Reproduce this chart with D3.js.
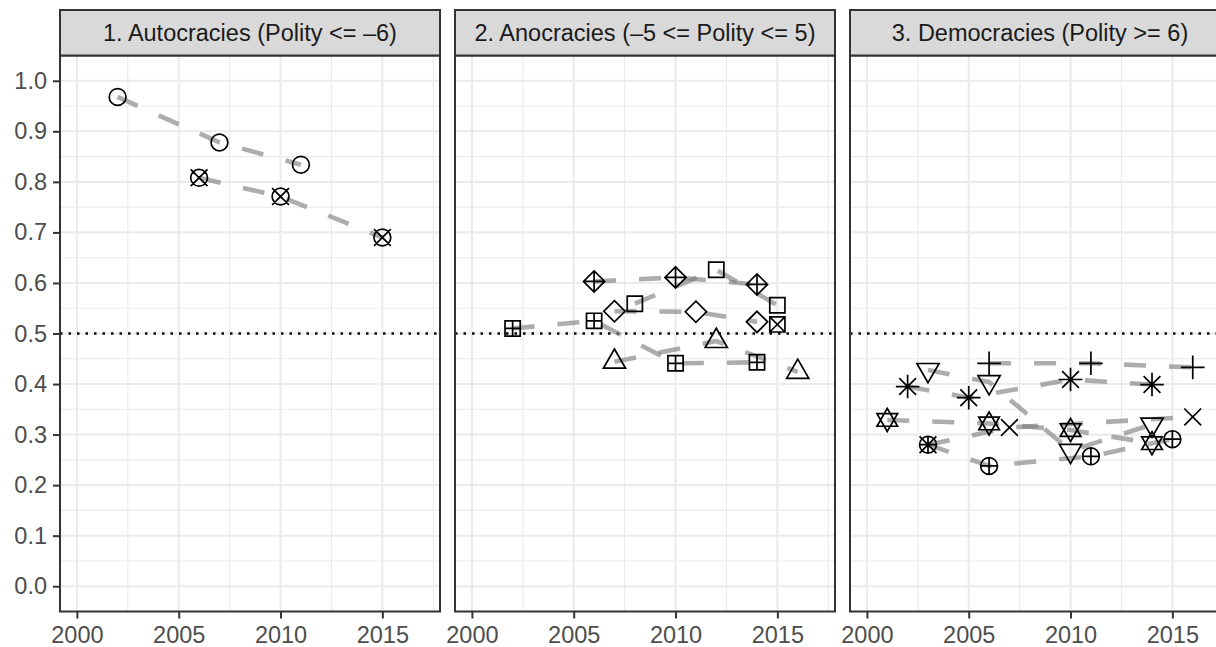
<!DOCTYPE html>
<html>
<head>
<meta charset="utf-8">
<script src="https://cdn.jsdelivr.net/npm/d3@7"></script>
<style>
  html, body { margin: 0; padding: 0; background: #ffffff; }
  svg { display: block; font-family: "Liberation Sans", Arial, Helvetica, sans-serif; }
</style>
</head>
<body>
<svg id="chart" width="1216" height="647"></svg>
<script>
// ---- data ----
const panelTitles = [
  "1. Autocracies (Polity <= \u20136)",
  "2. Anocracies (\u20135 <= Polity <= 5)",
  "3. Democracies (Polity >= 6)"
];
const xTicks = [2000, 2005, 2010, 2015];
const xMinorTicks = [2002.5, 2007.5, 2012.5, 2017.5];
const yTicks = [0.0, 0.1, 0.2, 0.3, 0.4, 0.5, 0.6, 0.7, 0.8, 0.9, 1.0];
const yMinorTicks = [0.05, 0.15, 0.25, 0.35, 0.45, 0.55, 0.65, 0.75, 0.85, 0.95];
const thresholdValue = 0.5;

// Autocracies
const autoCircleYears = [2002, 2007, 2011];
const autoCircleValues = [0.968, 0.878, 0.834];
const autoCircleCrossYears = [2006, 2010, 2015];
const autoCircleCrossValues = [0.808, 0.771, 0.690];

// Anocracies
const anoSquarePlusYears = [2002, 2006, 2010, 2014];
const anoSquarePlusValues = [0.510, 0.525, 0.441, 0.443];
const anoDiamondPlusYears = [2006, 2010, 2014];
const anoDiamondPlusValues = [0.603, 0.611, 0.597];
const anoSquareYears = [2008, 2012, 2015];
const anoSquareValues = [0.559, 0.626, 0.556];
const anoDiamondYears = [2007, 2011, 2014];
const anoDiamondValues = [0.544, 0.543, 0.523];
const anoSquareCrossYears = [2015];
const anoSquareCrossValues = [0.518];
const anoTriangleYears = [2007, 2012, 2016];
const anoTriangleValues = [0.444, 0.485, 0.424];

// Democracies
const demPlusYears = [2006, 2011, 2016];
const demPlusValues = [0.441, 0.441, 0.433];
const demAsteriskYears = [2002, 2005, 2010, 2014];
const demAsteriskValues = [0.395, 0.373, 0.409, 0.399];
const demTriangleDownYears = [2003, 2006, 2010, 2014];
const demTriangleDownValues = [0.428, 0.404, 0.268, 0.320];
const demStarYears = [2001, 2006, 2010, 2014];
const demStarValues = [0.329, 0.322, 0.309, 0.283];
const demCrossYears = [2003, 2007, 2016];
const demCrossValues = [0.280, 0.314, 0.335];
const demCirclePlusYears = [2003, 2006, 2011, 2015];
const demCirclePlusValues = [0.280, 0.238, 0.257, 0.291];

// table of series built from the arrays above
const seriesTable = [
  { panel: 0, shape: "circle", years: autoCircleYears, values: autoCircleValues },
  { panel: 0, shape: "circleCross", years: autoCircleCrossYears, values: autoCircleCrossValues },
  { panel: 1, shape: "squarePlus", years: anoSquarePlusYears, values: anoSquarePlusValues },
  { panel: 1, shape: "diamondPlus", years: anoDiamondPlusYears, values: anoDiamondPlusValues },
  { panel: 1, shape: "square", years: anoSquareYears, values: anoSquareValues },
  { panel: 1, shape: "diamond", years: anoDiamondYears, values: anoDiamondValues },
  { panel: 1, shape: "squareCross", years: anoSquareCrossYears, values: anoSquareCrossValues },
  { panel: 1, shape: "triangleUp", years: anoTriangleYears, values: anoTriangleValues },
  { panel: 2, shape: "plus", years: demPlusYears, values: demPlusValues },
  { panel: 2, shape: "asterisk", years: demAsteriskYears, values: demAsteriskValues },
  { panel: 2, shape: "triangleDown", years: demTriangleDownYears, values: demTriangleDownValues },
  { panel: 2, shape: "star", years: demStarYears, values: demStarValues },
  { panel: 2, shape: "cross", years: demCrossYears, values: demCrossValues },
  { panel: 2, shape: "circlePlus", years: demCirclePlusYears, values: demCirclePlusValues }
];

// ---- layout ----
const panelLefts = [60, 455, 850];
const panelWidth = 380;
const stripTop = 10;
const panelTop = 55.5;
const panelBottom = 611.5;
const panelHeight = panelBottom - panelTop;
const fontSize = 23.5;

const svg = d3.select("#chart");

const x = d3.scaleLinear().domain([1999.17, 2017.83]).range([0, panelWidth]);
const y = d3.scaleLinear().domain([-0.05, 1.05]).range([panelHeight, 0]);

// marker geometry (pixels)
const rC = 8.4, hSq = 7.6, hDm = 10.6, rTri = 12.8, armPlus = 11.8, armX = 8.4;
function shapePath(shape) {
  const p = d3.path();
  const circle = r => { p.moveTo(r, 0); p.arc(0, 0, r, 0, 2 * Math.PI); };
  const seg = (x1, y1, x2, y2) => { p.moveTo(x1, y1); p.lineTo(x2, y2); };
  const poly = pts => { p.moveTo(pts[0][0], pts[0][1]); pts.slice(1).forEach(q => p.lineTo(q[0], q[1])); p.closePath(); };
  const xc = rTri * Math.sqrt(3) / 2;
  switch (shape) {
    case "circle": circle(rC); break;
    case "circleCross": circle(rC); seg(-armX, -armX, armX, armX); seg(-armX, armX, armX, -armX); break;
    case "circlePlus": circle(rC); seg(-rC, 0, rC, 0); seg(0, -rC, 0, rC); break;
    case "square": poly([[-hSq, -hSq], [hSq, -hSq], [hSq, hSq], [-hSq, hSq]]); break;
    case "squarePlus": poly([[-hSq, -hSq], [hSq, -hSq], [hSq, hSq], [-hSq, hSq]]); seg(-hSq, 0, hSq, 0); seg(0, -hSq, 0, hSq); break;
    case "squareCross": poly([[-hSq, -hSq], [hSq, -hSq], [hSq, hSq], [-hSq, hSq]]); seg(-hSq, -hSq, hSq, hSq); seg(-hSq, hSq, hSq, -hSq); break;
    case "diamond": poly([[0, -hDm], [hDm, 0], [0, hDm], [-hDm, 0]]); break;
    case "diamondPlus": poly([[0, -hDm], [hDm, 0], [0, hDm], [-hDm, 0]]); seg(-hDm, 0, hDm, 0); seg(0, -hDm, 0, hDm); break;
    case "triangleUp": poly([[0, -rTri], [xc, rTri / 2], [-xc, rTri / 2]]); break;
    case "triangleDown": poly([[0, rTri], [xc, -rTri / 2], [-xc, -rTri / 2]]); break;
    case "star": poly([[0, -11.5], [10.3, 6.3], [-10.3, 6.3]]); poly([[0, 11.5], [10.3, -6.3], [-10.3, -6.3]]); break;
    case "plus": seg(-armPlus, 0, armPlus, 0); seg(0, -armPlus, 0, armPlus); break;
    case "cross": seg(-armX, -armX, armX, armX); seg(-armX, armX, armX, -armX); break;
    case "asterisk":
      seg(-armX, -armX, armX, armX); seg(-armX, armX, armX, -armX);
      seg(-armPlus, 0, armPlus, 0); seg(0, -armPlus, 0, armPlus); break;
  }
  return p.toString();
}

const line = d3.line()
  .x(d => x(d.year))
  .y(d => y(d.value));

panelTitles.forEach((title, i) => {
  const g = svg.append("g").attr("transform", `translate(${panelLefts[i]},${panelTop})`);

  // background and grid
  g.append("rect").attr("width", panelWidth).attr("height", panelHeight).attr("fill", "#ffffff");
  const grid = g.append("g").attr("stroke", "#EBEBEB");
  grid.selectAll("line.ymin").data(yMinorTicks).join("line")
    .attr("x1", 0).attr("x2", panelWidth).attr("y1", d => y(d)).attr("y2", d => y(d)).attr("stroke-width", 1.1);
  grid.selectAll("line.xmin").data(xMinorTicks).join("line")
    .attr("y1", 0).attr("y2", panelHeight).attr("x1", d => x(d)).attr("x2", d => x(d)).attr("stroke-width", 1.1);
  grid.selectAll("line.ymaj").data(yTicks).join("line")
    .attr("x1", 0).attr("x2", panelWidth).attr("y1", d => y(d)).attr("y2", d => y(d)).attr("stroke-width", 2.1);
  grid.selectAll("line.xmaj").data(xTicks).join("line")
    .attr("y1", 0).attr("y2", panelHeight).attr("x1", d => x(d)).attr("x2", d => x(d)).attr("stroke-width", 2.1);

  // clip region for data layers
  const clipId = `clip-${i}`;
  g.append("clipPath").attr("id", clipId)
    .append("rect").attr("width", panelWidth).attr("height", panelHeight);
  const data = g.append("g").attr("clip-path", `url(#${clipId})`);

  // reference line at 0.5
  data.append("line")
    .attr("x1", 0).attr("x2", panelWidth)
    .attr("y1", y(thresholdValue)).attr("y2", y(thresholdValue))
    .attr("stroke", "#000000").attr("stroke-width", 2.5)
    .attr("stroke-dasharray", "2.5 6");

  const panelSeries = seriesTable.filter(s => s.panel === i);

  // dashed connecting lines
  panelSeries.forEach(s => {
    const pts = s.years.map((yr, k) => ({ year: yr, value: s.values[k] }));
    if (pts.length < 2) return;
    data.append("path")
      .attr("d", line(pts))
      .attr("fill", "none")
      .attr("stroke", "#7f7f7f")
      .attr("stroke-opacity", 0.64)
      .attr("stroke-width", 4.6)
      .attr("stroke-linejoin", "round")
      .attr("stroke-linecap", "butt")
      .attr("stroke-dasharray", "22 23");
  });

  // markers
  panelSeries.forEach(s => {
    const pts = s.years.map((yr, k) => ({ year: yr, value: s.values[k] }));
    data.selectAll(null).data(pts).join("path")
      .attr("transform", d => `translate(${x(d.year)},${y(d.value)})`)
      .attr("d", shapePath(s.shape))
      .attr("fill", "none")
      .attr("stroke", "#000000")
      .attr("stroke-width", 1.7);
  });

  // panel border
  g.append("rect").attr("width", panelWidth).attr("height", panelHeight)
    .attr("fill", "none").attr("stroke", "#333333").attr("stroke-width", 2);

  // strip
  svg.append("rect")
    .attr("x", panelLefts[i]).attr("y", stripTop)
    .attr("width", panelWidth).attr("height", panelTop - stripTop)
    .attr("fill", "#D9D9D9").attr("stroke", "#333333").attr("stroke-width", 2);
  svg.append("text")
    .attr("x", panelLefts[i] + panelWidth / 2)
    .attr("y", (stripTop + panelTop) / 2)
    .attr("dy", "0.36em")
    .attr("text-anchor", "middle")
    .attr("font-size", fontSize)
    .attr("fill", "#1A1A1A")
    .text(title);

  // x axis
  const xAxis = d3.axisBottom(x).tickValues(xTicks).tickFormat(d3.format("d"))
    .tickSizeInner(7).tickSizeOuter(0).tickPadding(7.5);
  const xg = svg.append("g")
    .attr("transform", `translate(${panelLefts[i]},${panelBottom})`)
    .call(xAxis);
  xg.select(".domain").remove();
  xg.selectAll(".tick line").attr("stroke", "#333333").attr("stroke-width", 2);
  xg.selectAll(".tick text").attr("font-size", fontSize).attr("fill", "#4D4D4D")
    .attr("font-family", null);

  // y axis on the first panel only
  if (i === 0) {
    const yAxis = d3.axisLeft(y).tickValues(yTicks).tickFormat(d3.format(".1f"))
      .tickSizeInner(7).tickSizeOuter(0).tickPadding(6);
    const yg = svg.append("g")
      .attr("transform", `translate(${panelLefts[i]},${panelTop})`)
      .call(yAxis);
    yg.select(".domain").remove();
    yg.selectAll(".tick line").attr("stroke", "#333333").attr("stroke-width", 2);
    yg.selectAll(".tick text").attr("font-size", fontSize).attr("fill", "#4D4D4D")
      .attr("font-family", null);
  }
});
</script>
</body>
</html>
